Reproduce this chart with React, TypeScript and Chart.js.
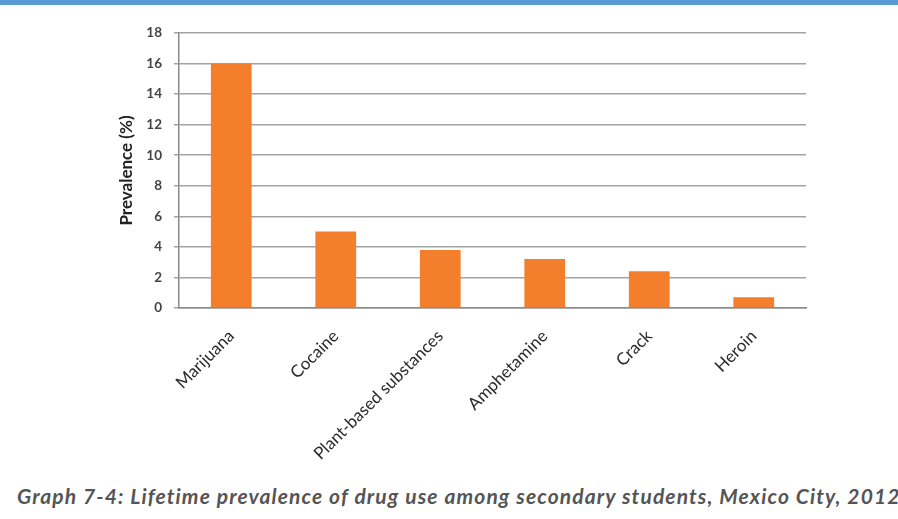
import React, { useEffect, useRef } from "react";
import { Chart, registerables } from "chart.js";

Chart.register(...registerables);

const categories = ["Marijuana", "Cocaine", "Plant-based substances", "Amphetamine", "Crack", "Heroin"];
const prevalence = [16.0, 5.0, 3.8, 3.2, 2.4, 0.7];
const yTitle = "Prevalence (%)";
const caption = "Graph 7-4: Lifetime prevalence of drug use among secondary students, Mexico City, 2012";

export default function App() {
  const ref = useRef<HTMLCanvasElement | null>(null);

  useEffect(() => {
    document.body.style.margin = "0";
    const ctx = ref.current;
    if (!ctx) return;
    const chart = new Chart(ctx, {
      type: "bar",
      data: {
        labels: categories,
        datasets: [
          {
            data: prevalence,
            backgroundColor: "#f37e2c",
            borderWidth: 0,
            categoryPercentage: 1,
            barPercentage: 0.39,
          },
        ],
      },
      options: {
        animation: false,
        responsive: false,
        maintainAspectRatio: false,
        layout: { padding: { left: 112, top: 33, right: 92, bottom: 0 } },
        plugins: { legend: { display: false }, tooltip: { enabled: false } },
        scales: {
          x: {
            grid: { display: false, drawTicks: false },
            border: { display: true, color: "#8a8a8a", width: 1.5 },
            ticks: {
              minRotation: 45,
              maxRotation: 45,
              padding: 18,
              color: "#2a2a2a",
              font: { family: "Lato", size: 17 },
              autoSkip: false,
            },
            afterFit: (s: any) => {
              s.height = 162;
            },
          },
          y: {
            min: 0,
            max: 18,
            ticks: {
              stepSize: 2,
              padding: 12,
              color: "#444",
              font: { family: "Lato", size: 13.5, weight: "bold" },
            },
            grid: { color: "#a3a3a3", lineWidth: 1.5, drawTicks: true, tickLength: 5 },
            border: { display: true, color: "#8a8a8a", width: 1.5 },
            title: {
              display: true,
              text: yTitle,
              color: "#222",
              font: { family: "Lato", size: 17, weight: "bold" },
              padding: { top: 4, bottom: 4 },
            },
            afterFit: (s: any) => {
              s.width = 67;
            },
          },
        },
      },
    });
    return () => chart.destroy();
  }, []);

  return (
    <div style={{ position: "absolute", left: 0, top: 0, width: 898, height: 519, overflow: "hidden", background: "#fff" }}>
      <div style={{ position: "absolute", left: 0, top: 0, width: 898, height: 5, background: "#5b9bd5" }} />
      <canvas ref={ref} width={898} height={470} style={{ position: "absolute", left: 0, top: 0, width: 898, height: 470 }} />
      <div
        style={{
          position: "absolute",
          left: 17,
          top: 484,
          whiteSpace: "nowrap",
          fontFamily: "Lato",
          fontStyle: "italic",
          fontWeight: "bold",
          fontSize: 21,
          letterSpacing: "1.12px",
          color: "#555",
          lineHeight: "24px",
        }}
      >
        {caption}
      </div>
    </div>
  );
}
